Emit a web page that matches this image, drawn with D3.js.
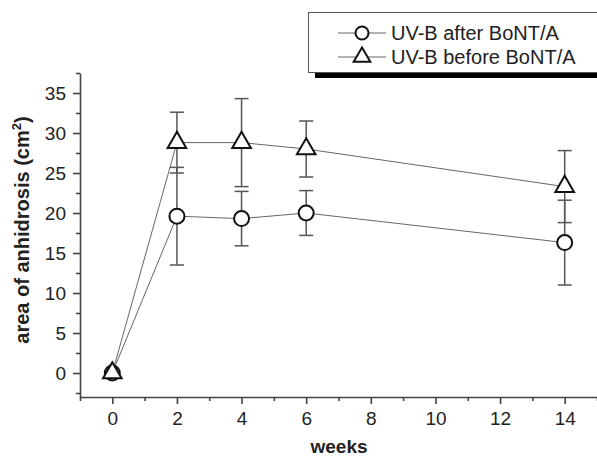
<!DOCTYPE html>
<html><head><meta charset="utf-8">
<script src="https://cdn.jsdelivr.net/npm/d3@7"></script>
<style>
html,body{margin:0;padding:0;background:#fff;}
svg{display:block;font-family:"Liberation Sans",Arial,Helvetica,sans-serif;}
</style></head>
<body>
<svg id="chart" width="597" height="456"></svg>
<script>
const weeks = [0, 2, 4, 6, 14];
const afterMean = [0, 19.6, 19.3, 20.0, 16.3];
const afterSD = [0, 6.1, 3.4, 2.8, 5.3];
const beforeMean = [0, 28.8, 28.8, 28.0, 23.3];
const beforeSD = [0, 3.8, 5.5, 3.5, 4.5];
const xTicks = [0, 2, 4, 6, 8, 10, 12, 14];
const yTicks = [0, 5, 10, 15, 20, 25, 30, 35];
const seriesNames = ["UV-B after BoNT/A", "UV-B before BoNT/A"];

const svg = d3.select("#chart");
const x = d3.scaleLinear().domain([-1, 15]).range([80, 597]);
const y = d3.scaleLinear().domain([-3, 37.5]).range([397, 73]);

const xMinor = d3.range(-1, 16, 1).filter(v => v % 2 !== 0);
const yMinor = d3.range(-2.5, 38, 5);

const gx = svg.append("g").attr("transform", "translate(0,397)");
gx.call(d3.axisBottom(x).tickValues(xTicks).tickSize(7).tickPadding(8).tickSizeOuter(0));
gx.append("g").call(d3.axisBottom(x).tickValues(xMinor).tickSize(4).tickFormat("").tickSizeOuter(0))
  .select(".domain").remove();
const gy = svg.append("g").attr("transform", "translate(80,0)");
gy.call(d3.axisLeft(y).tickValues(yTicks).tickSize(7).tickPadding(7).tickSizeOuter(0));
gy.append("g").call(d3.axisLeft(y).tickValues(yMinor).tickSize(4).tickFormat("").tickSizeOuter(0))
  .select(".domain").remove();
svg.selectAll(".domain").attr("stroke", "#444").attr("stroke-width", 1.6);
svg.selectAll(".tick line").attr("stroke", "#444").attr("stroke-width", 1.6);
svg.selectAll(".tick text").attr("font-size", 19).attr("fill", "#222")
  .attr("font-family", "'Liberation Sans', Arial, sans-serif");

svg.append("text").attr("x", 339).attr("y", 453).attr("text-anchor", "middle")
  .attr("font-size", 19).attr("font-weight", "bold").attr("fill", "#222").text("weeks");
const yt = svg.append("text").attr("transform", "translate(29,230) rotate(-90)")
  .attr("text-anchor", "middle").attr("font-size", 20).attr("font-weight", "bold").attr("fill", "#222");
yt.append("tspan").text("area of anhidrosis (cm");
yt.append("tspan").attr("font-size", 13).attr("dy", -8).text("2");
yt.append("tspan").attr("dy", 8).text(")");

const line = d3.line().x(d => x(d[0])).y(d => y(d[1]));
const afterPts = weeks.map((w, i) => [w, afterMean[i], afterSD[i]]);
const beforePts = weeks.map((w, i) => [w, beforeMean[i], beforeSD[i]]);

[afterPts, beforePts].forEach(pts => {
  svg.append("path").datum(pts).attr("d", line).attr("fill", "none")
    .attr("stroke", "#666").attr("stroke-width", 1);
});

function errorBars(pts) {
  const g = svg.append("g").attr("stroke", "#555").attr("stroke-width", 1.5);
  pts.filter(d => d[2] > 0).forEach(d => {
    const cx = x(d[0]);
    g.append("line").attr("x1", cx).attr("x2", cx).attr("y1", y(d[1] - d[2])).attr("y2", y(d[1] + d[2]));
    [d[1] - d[2], d[1] + d[2]].forEach(v => {
      g.append("line").attr("x1", cx - 7).attr("x2", cx + 7).attr("y1", y(v)).attr("y2", y(v));
    });
  });
}
errorBars(afterPts);
errorBars(beforePts);

const tri = d3.symbol().type(d3.symbolTriangle).size(150);
svg.append("g").selectAll("circle").data(afterPts).join("circle")
  .attr("cx", d => x(d[0])).attr("cy", d => y(d[1])).attr("r", 7.5)
  .attr("fill", "#fff").attr("stroke", "#111").attr("stroke-width", 2);
svg.append("g").selectAll("path").data(beforePts).join("path")
  .attr("transform", d => `translate(${x(d[0])},${y(d[1])})`).attr("d", tri)
  .attr("fill", "#fff").attr("stroke", "#111").attr("stroke-width", 2);

const lg = svg.append("g");
lg.append("rect").attr("x", 315).attr("y", 17).attr("width", 300).attr("height", 61).attr("fill", "#000");
lg.append("rect").attr("x", 308.5).attr("y", 12.5).attr("width", 300).attr("height", 60)
  .attr("fill", "#fff").attr("stroke", "#555").attr("stroke-width", 1);
const rows = [33, 57];
rows.forEach((ry, i) => {
  lg.append("line").attr("x1", 338).attr("x2", 386).attr("y1", ry).attr("y2", ry)
    .attr("stroke", "#666").attr("stroke-width", 1);
  if (i === 0) {
    lg.append("circle").attr("cx", 362).attr("cy", ry).attr("r", 6.5)
      .attr("fill", "#fff").attr("stroke", "#111").attr("stroke-width", 2);
  } else {
    lg.append("path").attr("transform", `translate(362,${ry})`).attr("d", d3.symbol().type(d3.symbolTriangle).size(120))
      .attr("fill", "#fff").attr("stroke", "#111").attr("stroke-width", 2);
  }
  lg.append("text").attr("x", 391).attr("y", ry + 7).attr("font-size", 20).attr("fill", "#222")
    .text(seriesNames[i]);
});
</script>
</body></html>
